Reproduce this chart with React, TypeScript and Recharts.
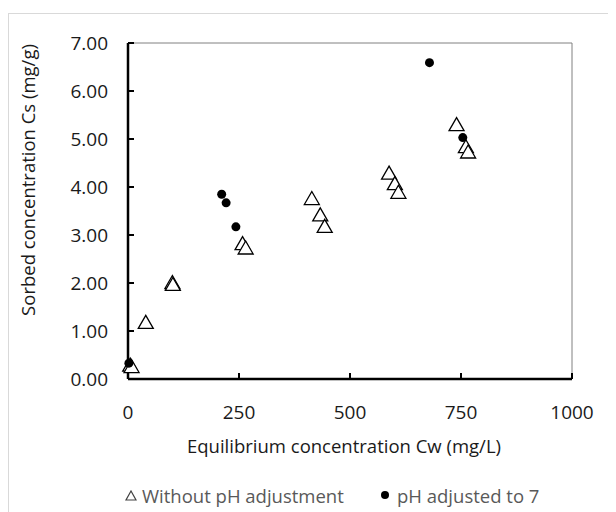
import React from "react";
import {
  ScatterChart,
  Scatter,
  XAxis,
  YAxis,
  ReferenceLine,
  Label,
} from "recharts";

const withoutX = [5, 8, 40, 100, 101, 258, 265, 414, 433, 443, 588, 601, 609, 740, 761, 766];
const withoutY = [0.3, 0.27, 1.19, 2.02, 1.98, 2.83, 2.74, 3.77, 3.43, 3.19, 4.3, 4.08, 3.9, 5.31, 4.85, 4.74];
const adjustedX = [2, 211, 221, 243, 679, 754];
const adjustedY = [0.33, 3.85, 3.67, 3.17, 6.59, 5.03];

const xTicks = [0, 250, 500, 750, 1000];
const yTicks = [0, 1, 2, 3, 4, 5, 6, 7];

const seriesNames = ["Without pH adjustment", "pH adjusted to 7"];
const xTitle = "Equilibrium concentration Cw (mg/L)";
const yTitle = "Sorbed concentration Cs (mg/g)";

const withoutData = withoutX.map((x, i) => ({ x, y: withoutY[i] }));
const adjustedData = adjustedX.map((x, i) => ({ x, y: adjustedY[i] }));

const FONT = "'Open Sans', sans-serif";
const TEXT = "#1a1a1a";

// 삼각형 마커 (흰 채움, 검은 테두리)
const TriangleShape = (props: any) => {
  const { cx, cy } = props;
  const w = 7.5;
  const h = 6.5;
  return (
    <polygon
      points={`${cx},${cy - h} ${cx - w},${cy + h} ${cx + w},${cy + h}`}
      fill="#fff"
      stroke="#000"
      strokeWidth={1.3}
    />
  );
};

const DotShape = (props: any) => {
  const { cx, cy } = props;
  return <circle cx={cx} cy={cy} r={4.5} fill="#000" />;
};

const YTitle = () => (
  <text
    x={19}
    y={172}
    transform="rotate(-90, 19, 172)"
    textAnchor="middle"
    dominantBaseline="central"
    fontFamily={FONT}
    fontSize={18.5}
    fill={TEXT}
  >
    {yTitle}
  </text>
);

const XTitle = () => (
  <text
    x={336}
    y={437}
    textAnchor="middle"
    dominantBaseline="central"
    fontFamily={FONT}
    fontSize={18.5}
    fill={TEXT}
  >
    {xTitle}
  </text>
);

// 범례 (차트 밖에 직접 배치)
const ChartLegend = () => (
  <div
    style={{
      position: "absolute",
      left: 0,
      top: 475,
      width: 608,
      height: 24,
      fontFamily: FONT,
      fontSize: 18.5,
      color: "#595959",
    }}
  >
    <div style={{ position: "absolute", left: 117, top: 0, display: "flex", alignItems: "center", height: 24 }}>
      <svg width={12} height={11} style={{ marginRight: 5 }}>
        <polygon points="6,1 1,10 11,10" fill="#fff" stroke="#404040" strokeWidth={1.2} />
      </svg>
      <span>{seriesNames[0]}</span>
    </div>
    <div style={{ position: "absolute", left: 373, top: 0, display: "flex", alignItems: "center", height: 24 }}>
      <svg width={8} height={8} style={{ marginRight: 8 }}>
        <circle cx={4} cy={4} r={4} fill="#000" />
      </svg>
      <span>{seriesNames[1]}</span>
    </div>
  </div>
);

export default function App() {
  return (
    <div style={{ position: "relative", width: 608, height: 504, overflow: "hidden", background: "#fff" }}>
      <div
        style={{
          position: "absolute",
          left: 0,
          top: 5,
          width: 700,
          height: 700,
          border: "1px solid #d9d9d9",
        }}
      />
      <div style={{ position: "absolute", left: 0, top: 0 }}>
        <ScatterChart
          width={608}
          height={504}
          margin={{ top: 35, right: 44, left: 40, bottom: 73 }}
        >
          <XAxis
            type="number"
            dataKey="x"
            domain={[0, 1000]}
            ticks={xTicks}
            height={60}
            axisLine={{ stroke: "#000", strokeWidth: 2.5 }}
            tickLine={{ stroke: "#000", strokeWidth: 2 }}
            tickSize={-6}
            tickMargin={33}
            tick={{ fontFamily: FONT, fontSize: 19, fill: TEXT }}
          >
            <Label content={<XTitle />} />
          </XAxis>
          <YAxis
            type="number"
            dataKey="y"
            domain={[0, 7]}
            ticks={yTicks}
            width={80}
            tickFormatter={(v: number) => v.toFixed(2)}
            axisLine={{ stroke: "#000", strokeWidth: 2.5 }}
            tickLine={{ stroke: "#000", strokeWidth: 2 }}
            tickSize={-6}
            tickMargin={26}
            tick={{ fontFamily: FONT, fontSize: 19, fill: TEXT }}
          >
            <Label content={<YTitle />} />
          </YAxis>
          <ReferenceLine y={7} stroke="#808080" strokeWidth={1} />
          <ReferenceLine x={1000} stroke="#808080" strokeWidth={1} />
          <Scatter
            name={seriesNames[0]}
            data={withoutData}
            shape={TriangleShape}
            isAnimationActive={false}
          />
          <Scatter
            name={seriesNames[1]}
            data={adjustedData}
            shape={DotShape}
            isAnimationActive={false}
          />
        </ScatterChart>
      </div>
      <ChartLegend />
    </div>
  );
}
